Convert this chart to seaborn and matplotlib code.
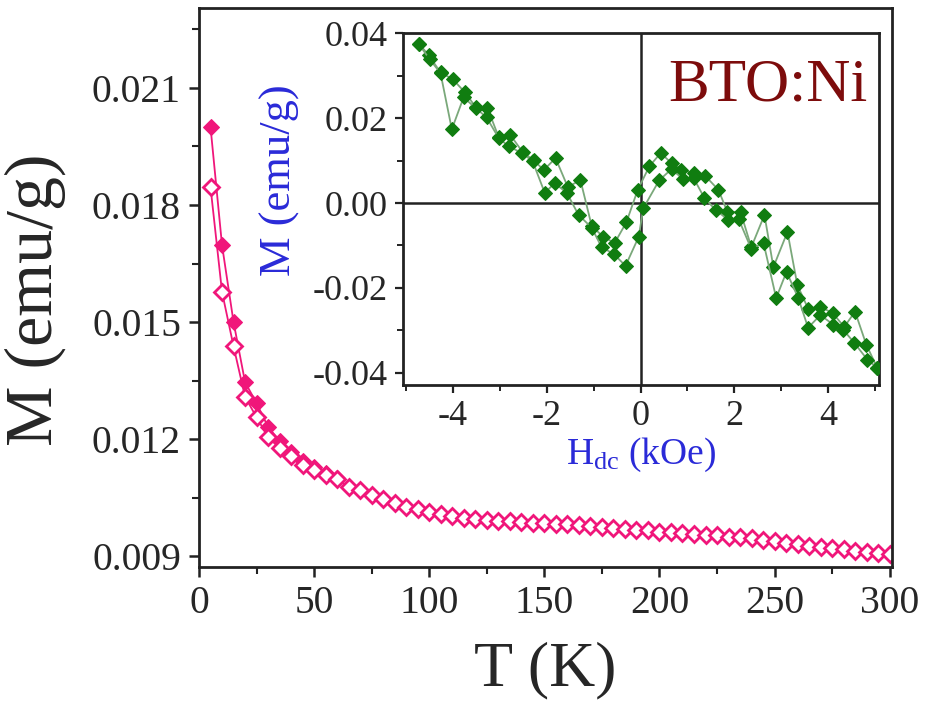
import matplotlib
matplotlib.use("Agg")
import matplotlib.pyplot as plt
import seaborn as sns
import pandas as pd
from matplotlib.ticker import MultipleLocator

# ---------------- data ----------------
T_open = [5, 10, 15, 20, 25, 30, 35, 40, 45, 50, 55, 60, 65, 70, 75, 80, 85, 90, 95, 100,
          105, 110, 115, 120, 125, 130, 135, 140, 145, 150, 155, 160, 165, 170, 175, 180,
          185, 190, 195, 200, 205, 210, 215, 220, 225, 230, 235, 240, 245, 250, 255, 260,
          265, 270, 275, 280, 285, 290, 295, 300]
M_open = [0.01846, 0.01577, 0.01438, 0.01308, 0.01256, 0.01205, 0.01177, 0.01156, 0.01133,
          0.01120, 0.01108, 0.01097, 0.01077, 0.01069, 0.01056, 0.01046, 0.01036, 0.01026,
          0.01020, 0.01013, 0.01008, 0.01003, 0.00997, 0.00995, 0.00993, 0.00991, 0.00989,
          0.00987, 0.00986, 0.00985, 0.00983, 0.00981, 0.00979, 0.00977, 0.00974, 0.00972,
          0.00970, 0.00968, 0.00966, 0.00963, 0.00961, 0.00959, 0.00957, 0.00955, 0.00953,
          0.00950, 0.00948, 0.00946, 0.00942, 0.00938, 0.00934, 0.00930, 0.00927, 0.00923,
          0.00920, 0.00917, 0.00914, 0.00911, 0.00908, 0.00905]

T_fill = [5, 10, 15, 20, 25, 30, 35, 40, 45, 50, 55, 60]
M_fill = [0.02000, 0.01697, 0.01500, 0.01346, 0.01292, 0.01231, 0.01195, 0.01168, 0.01143,
          0.01128, 0.01112, 0.01099]

H_up = [-4.72, -4.51, -4.26, -4.00, -3.74, -3.51, -3.26, -3.02, -2.77, -2.51, -2.28, -2.06,
        -1.81, -1.55, -1.28, -1.04, -0.79, -0.55, -0.30, -0.06, 0.19, 0.43, 0.66, 0.87,
        1.13, 1.38, 1.66, 1.85, 2.13, 2.36, 2.64, 2.83, 3.13, 3.34, 3.57, 3.83, 4.09, 4.34,
        4.57, 4.81, 5.04]
M_up = [0.0376, 0.0348, 0.0308, 0.0292, 0.0261, 0.0226, 0.0224, 0.0155, 0.0160, 0.0120,
        0.0101, 0.0078, 0.0106, 0.0038, 0.0054, -0.0054, -0.0080, -0.0094, -0.0045, 0.0031,
        0.0087, 0.0118, 0.0094, 0.0078, 0.0071, 0.0064, 0.0031, -0.0021, -0.0021, -0.0104,
        -0.0028, -0.0151, -0.0068, -0.0193, -0.0249, -0.0245, -0.0259, -0.0292, -0.0256,
        -0.0334, -0.0388]

H_dn = [-4.72, -4.49, -4.26, -4.02, -3.77, -3.51, -3.28, -3.02, -2.81, -2.53, -2.30, -2.04,
        -1.83, -1.57, -1.32, -1.04, -0.83, -0.57, -0.32, -0.04, 0.06, 0.40, 0.66, 0.91,
        1.13, 1.36, 1.60, 1.87, 2.09, 2.36, 2.62, 2.89, 3.11, 3.36, 3.57, 3.83, 4.11, 4.32,
        4.55, 4.83, 5.04]
M_dn = [0.0374, 0.0339, 0.0306, 0.0174, 0.0249, 0.0224, 0.0202, 0.0153, 0.0134, 0.0118,
        0.0099, 0.0024, 0.0047, 0.0024, -0.0028, -0.0058, -0.0104, -0.0120, -0.0148, -0.0080,
        -0.0012, 0.0054, 0.0080, 0.0056, 0.0059, 0.0012, -0.0016, -0.0040, -0.0038, -0.0108,
        -0.0094, -0.0224, -0.0162, -0.0224, -0.0294, -0.0264, -0.0287, -0.0299, -0.0329,
        -0.0369, -0.0388]

main_xticks = [0, 50, 100, 150, 200, 250, 300]
main_yticks = [0.009, 0.012, 0.015, 0.018, 0.021]
inset_xticks = [-4, -2, 0, 2, 4]
inset_yticks = [-0.04, -0.02, 0.00, 0.02, 0.04]

# ---------------- style ----------------
sns.set_style("ticks")
plt.rcParams['font.family'] = ['Liberation Serif', 'DejaVu Serif']
plt.rcParams['mathtext.fontset'] = 'custom'
plt.rcParams['mathtext.rm'] = 'Liberation Serif'
plt.rcParams['mathtext.it'] = 'Liberation Serif'

PINK = '#f0167a'
GREEN = '#107d10'
GLINE = '#7aa87a'
SPINE = '#222222'

fig = plt.figure(figsize=(9.31, 7.07), dpi=100)
ax = fig.add_axes([199/931, 1-567/707, (892-199)/931, (567-8)/707])

df_fill = pd.DataFrame({'T': T_fill, 'M': M_fill})
df_open = pd.DataFrame({'T': T_open, 'M': M_open})
sns.lineplot(data=df_fill, x='T', y='M', ax=ax, color=PINK, lw=1.3, marker='D',
             markersize=8, markerfacecolor=PINK, markeredgecolor=PINK, estimator=None)
sns.lineplot(data=df_open, x='T', y='M', ax=ax, color=PINK, lw=1.3, marker='D',
             markersize=8.5, markerfacecolor='white', markeredgecolor=PINK,
             markeredgewidth=2.0, estimator=None)

ax.set_xlim(0, 301)
ax.set_ylim(0.00872, 0.02305)
ax.set_xticks(main_xticks)
ax.set_xticklabels([str(v) for v in main_xticks])
ax.set_yticks(main_yticks)
ax.set_yticklabels([f"{v:.3f}" for v in main_yticks])
ax.xaxis.set_minor_locator(MultipleLocator(25))
ax.yaxis.set_minor_locator(MultipleLocator(0.0015))
ax.tick_params(which='major', direction='out', length=7, width=1.8, labelsize=28.5,
               color=SPINE, pad=6)
ax.tick_params(which='minor', direction='out', length=5, width=1.5, color=SPINE)
for s in ax.spines.values():
    s.set_visible(True)
    s.set_linewidth(2.0)
    s.set_color(SPINE)
ax.set_xlabel('T (K)', fontsize=46, labelpad=14)
ax.set_ylabel('M (emu/g)', fontsize=49)
ax.yaxis.set_label_coords(-0.192, 0.478)

# ---------------- inset ----------------
ins = fig.add_axes([403/931, 1-385/707, (879-403)/931, (385-33)/707])
ins.axhline(0, color=SPINE, lw=1.8, zorder=1)
ins.axvline(0, color=SPINE, lw=1.8, zorder=1)
df_up = pd.DataFrame({'H': H_up, 'M': M_up})
df_dn = pd.DataFrame({'H': H_dn, 'M': M_dn})
for d in (df_up, df_dn):
    sns.lineplot(data=d, x='H', y='M', ax=ins, color=GLINE, lw=1.3, marker='D',
                 markersize=7.5, markerfacecolor=GREEN, markeredgecolor=GREEN,
                 estimator=None, sort=False, zorder=3)
ins.set_xlim(-5.06, 5.08)
ins.set_ylim(-0.0429, 0.0401)
ins.set_xticks(inset_xticks)
ins.set_xticklabels([str(v) for v in inset_xticks])
ins.set_yticks(inset_yticks)
ins.set_yticklabels([f"{v:.2f}" for v in inset_yticks])
ins.xaxis.set_minor_locator(MultipleLocator(1))
ins.yaxis.set_minor_locator(MultipleLocator(0.01))
ins.tick_params(which='major', direction='out', length=6, width=1.6, labelsize=26,
                color=SPINE, pad=5)
ins.tick_params(which='minor', direction='out', length=4, width=1.4, color=SPINE)
for s in ins.spines.values():
    s.set_visible(True)
    s.set_linewidth(2.0)
    s.set_color(SPINE)
ins.set_xlabel(r'H$_{\mathrm{dc}}$ (kOe)', fontsize=27, color='#2a2ad8', labelpad=2)
ins.set_ylabel('M (emu/g)', fontsize=32, color='#2a2ad8')
ins.yaxis.set_label_coords(-0.216, 0.583)
ins.text(0.975, 0.93, 'BTO:Ni', transform=ins.transAxes, ha='right', va='top',
         fontsize=44, color='#7d0c0c')

fig.savefig('out.png', dpi=100)
